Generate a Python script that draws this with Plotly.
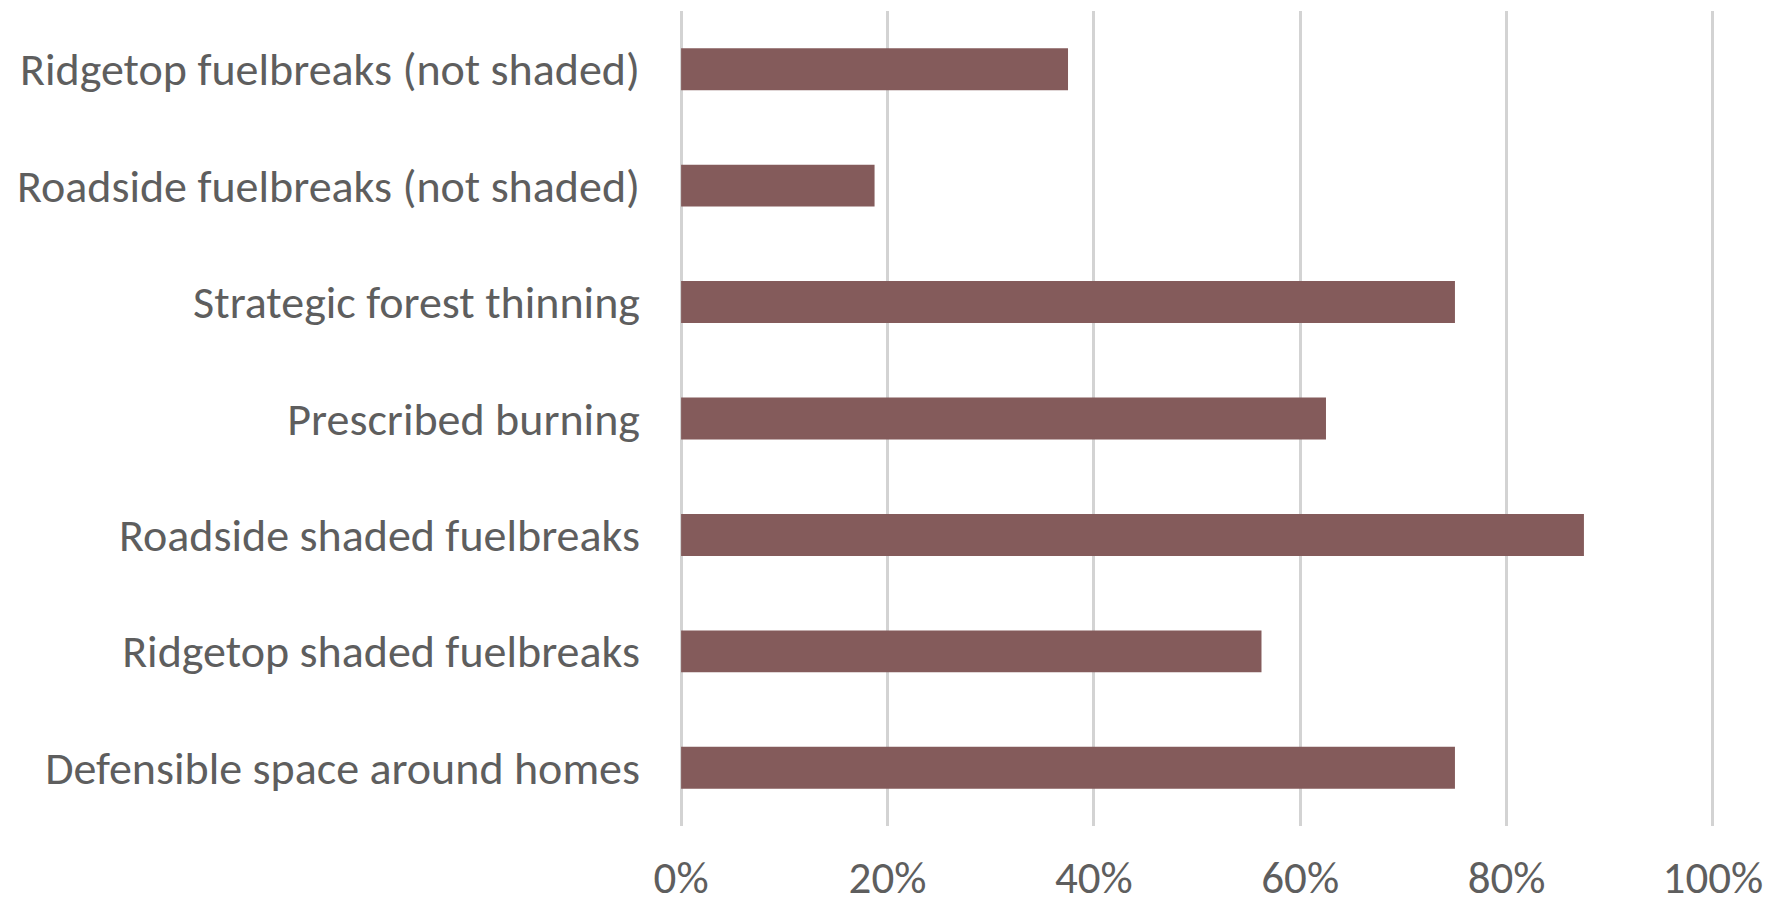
import plotly.graph_objects as go

categories = [
    "Ridgetop fuelbreaks (not shaded)",
    "Roadside fuelbreaks (not shaded)",
    "Strategic forest thinning",
    "Prescribed burning",
    "Roadside shaded fuelbreaks",
    "Ridgetop shaded fuelbreaks",
    "Defensible space around homes",
]
values = [0.375, 0.1875, 0.75, 0.625, 0.875, 0.5625, 0.75]
tick_vals = [0, 0.2, 0.4, 0.6, 0.8, 1.0]
tick_text = ["0%", "20%", "40%", "60%", "80%", "100%"]

fig = go.Figure(go.Bar(
    x=values, y=categories, orientation="h",
    marker=dict(color="#845B5B", line=dict(width=0)),
    hoverinfo="skip",
))

FONT = "Carlito, Open Sans, sans-serif"
# page body adds an 8px margin, so the figure is sized to fit the window
fig.update_layout(
    width=1769, height=897,
    margin=dict(l=670, r=61, t=3, b=79, autoexpand=False),
    paper_bgcolor="white", plot_bgcolor="white",
    bargap=0.64,
    showlegend=False,
    font=dict(family=FONT, size=46, color="#5E5E5E"),
)
fig.update_xaxes(
    range=[-0.003, 1.003], tickvals=tick_vals, ticktext=tick_text,
    showgrid=True, gridcolor="#D3D3D3", gridwidth=2.5,
    zeroline=False, showline=False, ticks="", automargin=False,
    ticklabelstandoff=21, tickfont=dict(family=FONT, size=45, color="#5E5E5E"),
)
fig.update_yaxes(
    categoryorder="array", categoryarray=categories, autorange="reversed",
    showgrid=False, zeroline=False, showline=False, ticks="", automargin=False,
    ticklabelstandoff=37, tickfont=dict(family=FONT, size=46, color="#5E5E5E"),
)

fig.write_html("out.html")
